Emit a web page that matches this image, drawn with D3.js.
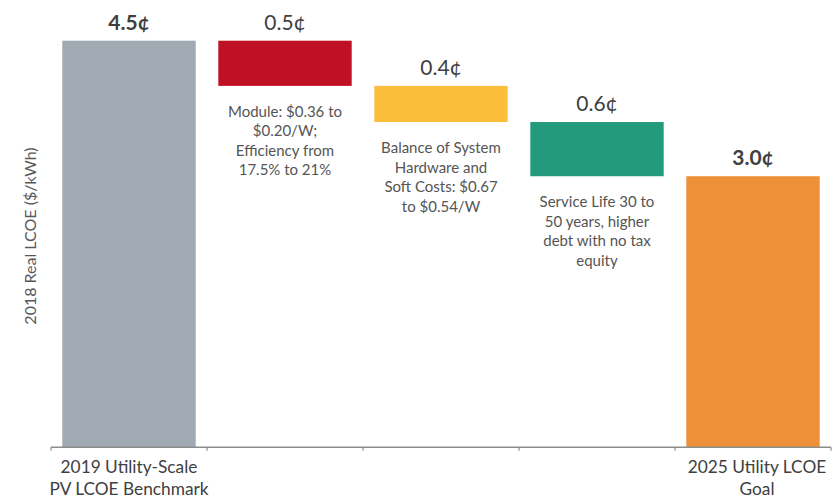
<!DOCTYPE html>
<html>
<head>
<meta charset="utf-8">
<script src="https://cdn.jsdelivr.net/npm/d3@7"></script>
<style>
  html, body { margin: 0; padding: 0; background: #fff; }
  svg { display: block; font-family: Lato, "Open Sans", sans-serif; }
</style>
</head>
<body>
<svg id="chart" width="840" height="498"></svg>
<script>
// Waterfall of utility-scale PV LCOE reductions (cents/kWh)
const categories = ["benchmark", "module", "bos", "service", "goal"];
const categoryLabels = [["2019 Utility-Scale", "PV LCOE Benchmark"], [], [], [], ["2025 Utility LCOE", "Goal"]];
const stepValues = [4.5, -0.5, -0.4, -0.6, 3.0];   // start, reductions, result
const isTotal = [true, false, false, false, true];
const valueLabels = ["4.5¢", "0.5¢", "0.4¢", "0.6¢", "3.0¢"];
const boldLabel = [true, false, false, false, true];
const barColors = ["#A1AAB2", "#BF1024", "#FBBE3B", "#249A7C", "#ED9037"];
const notes = [
  [],
  ["Module: $0.36 to", "$0.20/W;", "Efficiency from", "17.5% to 21%"],
  ["Balance of System", "Hardware and", "Soft Costs: $0.67", "to $0.54/W"],
  ["Service Life 30 to", "50 years, higher", "debt with no tax", "equity"],
  []
];
const yAxisTitle = "2018 Real LCOE ($/kWh)";

// Running start/end of each bar
let running = 0;
const bars = categories.map((c, i) => {
  let y0, y1;
  if (isTotal[i]) { y0 = 0; y1 = stepValues[i]; running = stepValues[i]; }
  else { y0 = running; y1 = running + stepValues[i]; running = y1; }
  return { key: c, i, lo: Math.min(y0, y1), hi: Math.max(y0, y1) };
});

const svg = d3.select("#chart");
const plotLeft = 51, plotRight = 831, plotBase = 447.3, plotTop = 40.7;

const x = d3.scaleBand().domain(categories).range([plotLeft, plotRight]).padding(0);
const y = d3.scaleLinear().domain([0, 4.5]).range([plotBase, plotTop]);
const barW = x.bandwidth() * 0.855;
const barX = d => x(d.key) + (x.bandwidth() - barW) / 2;

// bars
svg.append("g").selectAll("rect").data(bars).join("rect")
  .attr("x", barX)
  .attr("width", barW)
  .attr("y", d => y(d.hi))
  .attr("height", d => y(d.lo) - y(d.hi))
  .attr("fill", d => barColors[d.i]);

// value labels above bars
svg.append("g").selectAll("text").data(bars).join("text")
  .attr("x", d => x(d.key) + x.bandwidth() / 2)
  .attr("y", d => y(d.hi) - 11)
  .attr("text-anchor", "middle")
  .attr("font-size", 21)
  .attr("font-weight", d => boldLabel[d.i] ? 700 : 400)
  .attr("fill", "#404040")
  .text(d => valueLabels[d.i]);

// explanatory notes under reduction bars
const noteG = svg.append("g");
bars.forEach(d => {
  const lines = notes[d.i];
  if (!lines.length) return;
  const t = noteG.append("text")
    .attr("text-anchor", "middle")
    .attr("font-size", 15)
    .attr("fill", "#555");
  lines.forEach((ln, k) => {
    t.append("tspan")
      .attr("x", x(d.key) + x.bandwidth() / 2)
      .attr("y", y(d.lo) + 31 + k * 19.5)
      .text(ln);
  });
});

// bottom axis: baseline with ticks at slot boundaries
const axis = svg.append("g").attr("transform", `translate(0,${plotBase})`);
axis.append("line")
  .attr("x1", plotLeft).attr("x2", plotRight)
  .attr("stroke", "#8C8C8C").attr("stroke-width", 1.6);
const bounds = categories.map(c => x(c)).concat([x(categories[categories.length - 1]) + x.bandwidth()]);
axis.selectAll("line.tick").data(bounds).join("line")
  .attr("class", "tick")
  .attr("x1", d => d).attr("x2", d => d)
  .attr("y1", 0).attr("y2", 3.5)
  .attr("stroke", "#8C8C8C").attr("stroke-width", 1.2);

// category labels
categories.forEach((c, i) => {
  const lines = categoryLabels[i];
  if (!lines.length) return;
  const t = axis.append("text")
    .attr("text-anchor", "middle")
    .attr("font-size", 17.3)
    .attr("fill", "#404040");
  lines.forEach((ln, k) => {
    t.append("tspan")
      .attr("x", x(c) + x.bandwidth() / 2 + (i === categories.length - 1 ? 4 : 0))
      .attr("y", 25.5 + k * 22.3)
      .text(ln);
  });
});

// y axis title
svg.append("text")
  .attr("transform", `translate(36,236) rotate(-90)`)
  .attr("text-anchor", "middle")
  .attr("font-size", 16)
  .attr("fill", "#595959")
  .text(yAxisTitle);
</script>
</body>
</html>
